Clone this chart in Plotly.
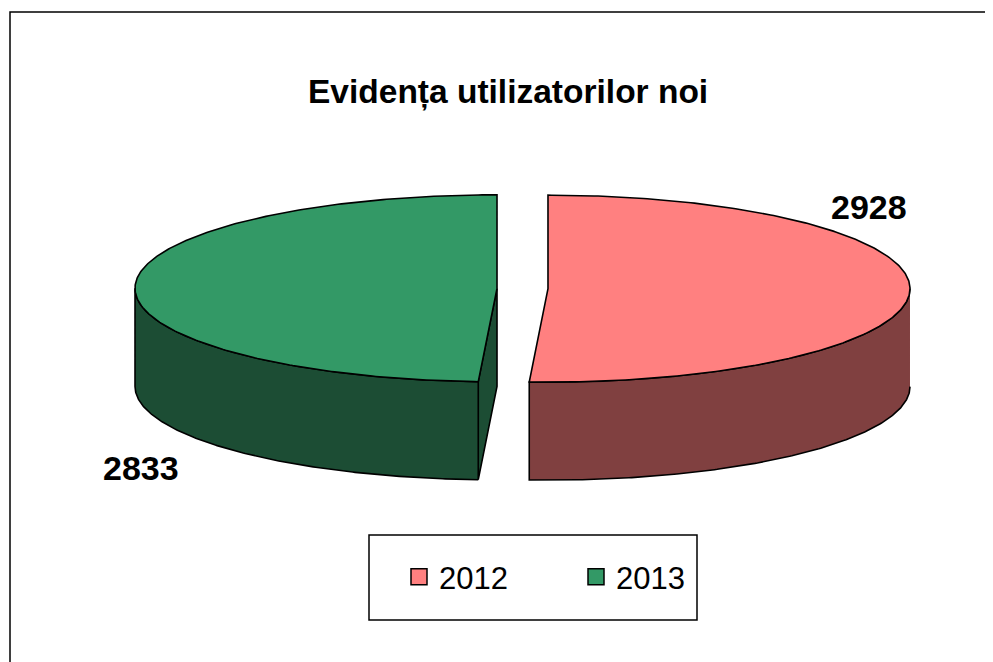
import numpy as np
import plotly.graph_objects as go

# ---- data ----
years = ["2012", "2013"]
values = [2928, 2833]
top_colors = ["#FF8080", "#339966"]
side_colors = ["#804040", "#1C4D34"]
title_text = "Evidența utilizatorilor noi"

# ---- page / geometry (data units = page pixels; body margin is 8px) ----
OFF = 8
W, H = 993 - OFF, 662 - OFF
CX, CY = 522.5, 288.5   # pie centre (top face)
A, B = 362.0, 93.5      # ellipse semi-axes
DEPTH = 98.0            # thickness
EXPLODE = 25.5          # explosion distance
FONT = "Arial, Liberation Sans, sans-serif"

total = float(sum(values))
fracs = [v / total for v in values]


def pt(cx, cy, th, dy=0.0):
    return cx + A * np.sin(th), cy - B * np.cos(th) + dy


fig = go.Figure()
start = 0.0
slices = []
for i, f in enumerate(fracs):
    t0 = start
    t1 = start + 2 * np.pi * f
    mid = (t0 + t1) / 2
    cx = CX + EXPLODE * np.sin(mid)
    cy = CY - EXPLODE * (B / A) * np.cos(mid)
    slices.append((i, t0, t1, mid, cx, cy))
    start = t1

line = dict(color="black", width=1.6)
for i, t0, t1, mid, cx, cy in slices:
    # outer wall: visible front part (pi/2 .. 3pi/2)
    w0, w1 = max(t0, np.pi / 2), min(t1, 3 * np.pi / 2)
    if w1 > w0:
        th = np.linspace(w0, w1, 200)
        xt, yt = pt(cx, cy, th)
        xb, yb = pt(cx, cy, th[::-1], DEPTH)
        fig.add_trace(go.Scatter(x=np.r_[xt, xb], y=np.r_[yt, yb], fill="toself",
                                 fillcolor=side_colors[i], line=line, mode="lines",
                                 hoverinfo="skip", showlegend=False))
    # radial cut faces, drawn when their outward normal points toward the viewer
    for th_edge, visible in ((t0, np.sin(t0) < -1e-6), (t1, np.sin(t1) > 1e-6)):
        if visible:
            ex, ey = pt(cx, cy, th_edge)
            fig.add_trace(go.Scatter(x=[cx, ex, ex, cx, cx],
                                     y=[cy, ey, ey + DEPTH, cy + DEPTH, cy],
                                     fill="toself", fillcolor=side_colors[i], line=line,
                                     mode="lines", hoverinfo="skip", showlegend=False))
    # top face
    th = np.linspace(t0, t1, 300)
    xt, yt = pt(cx, cy, th)
    fig.add_trace(go.Scatter(x=np.r_[cx, xt, cx], y=np.r_[cy, yt, cy], fill="toself",
                             fillcolor=top_colors[i], line=line, mode="lines",
                             hoverinfo="skip", showlegend=False))

# value labels placed outside the rim
label_angles = [np.deg2rad(60), np.deg2rad(243)]
label_offsets = [(8, -35), (-33, 39)]
for (i, t0, t1, mid, cx, cy), ang, off in zip(slices, label_angles, label_offsets):
    x, y = pt(cx, cy, ang, DEPTH if np.cos(ang) < 0 else 0)
    fig.add_annotation(x=x + off[0], y=y + off[1], text=str(values[i]), showarrow=False,
                       xref="x", yref="y",
                       font=dict(size=34, color="black", family=FONT, weight="bold"))

# legend entries
for i, yr in enumerate(years):
    fig.add_trace(go.Scatter(x=[None], y=[None], mode="markers", name=yr,
                             marker=dict(symbol="square", size=16, color=top_colors[i],
                                         line=dict(color="black", width=1.5))))

fig.add_annotation(x=508, y=92, xref="x", yref="y", text=title_text, showarrow=False,
                   font=dict(size=33.5, color="black", family=FONT, weight="bold"))

# chart border and legend box
fig.add_shape(type="rect", x0=10, y0=12, x1=1010, y1=700, xref="x", yref="y",
              line=dict(color="black", width=1.5), layer="below")
fig.add_shape(type="rect", x0=369, y0=535, x1=697, y1=620, xref="x", yref="y",
              line=dict(color="black", width=1.5), layer="below")

fig.update_layout(
    width=W, height=H, margin=dict(l=0, r=0, t=0, b=0),
    paper_bgcolor="white", plot_bgcolor="white",
    xaxis=dict(range=[OFF, OFF + W], visible=False, fixedrange=True),
    yaxis=dict(range=[OFF + H, OFF], visible=False, fixedrange=True),
    showlegend=True,
    legend=dict(orientation="h", x=(399 - OFF) / W, y=1 - (577 - OFF) / H,
                xanchor="left", yanchor="middle",
                font=dict(size=31, color="black", family=FONT),
                bgcolor="rgba(0,0,0,0)", entrywidth=132, entrywidthmode="pixels",
                itemclick=False, itemdoubleclick=False),
)

fig.write_html("out.html")
